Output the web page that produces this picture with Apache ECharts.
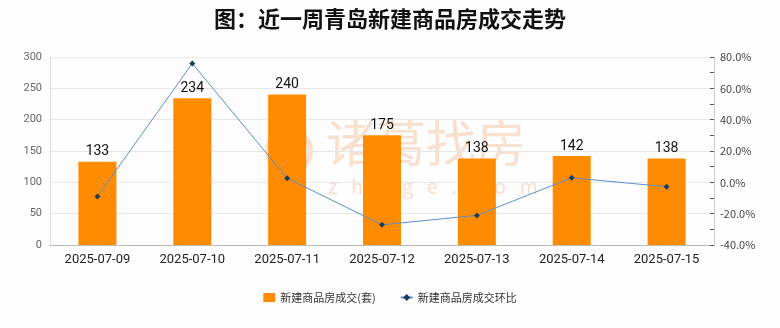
<!DOCTYPE html>
<html>
<head>
<meta charset="utf-8">
<script src="https://cdn.jsdelivr.net/npm/echarts@6/dist/echarts.min.js"></script>
<style>
html,body{margin:0;padding:0;background:#fdfdfd;}
#chart{width:780px;height:328px;}
</style>
</head>
<body>
<div id="chart"></div>
<script>
// Weekly new-home transactions in Qingdao
const dates = ['2025-07-09','2025-07-10','2025-07-11','2025-07-12','2025-07-13','2025-07-14','2025-07-15'];
const deals = [133, 234, 240, 175, 138, 142, 138];
const ringRatio = [-9.0, 75.9, 2.6, -27.1, -21.1, 2.9, -2.8];
const seriesNames = ['新建商品房成交(套)', '新建商品房成交环比'];
const titleText = '图：近一周青岛新建商品房成交走势';

const chart = echarts.init(document.getElementById('chart'));
const cjk = '"Noto Sans CJK SC", sans-serif';
const mark = 'rgba(244,196,160,0.5)';

chart.setOption({
  backgroundColor: '#fdfdfd',
  animation: false,
  title: {
    text: titleText,
    left: 'center',
    top: 3,
    textStyle: { fontFamily: cjk, fontSize: 22, fontWeight: 'bold', color: '#111' }
  },
  graphic: [
    {
      type: 'circle', silent: true, z: 0,
      shape: { cx: 289, cy: 151, r: 21 },
      style: { fill: 'none', stroke: mark, lineWidth: 6 }
    },
    {
      type: 'text', left: 326, top: 118, silent: true, z: 0,
      style: { text: '诸葛找房', font: '50px ' + cjk, fill: mark }
    },
    {
      type: 'text', left: 328, top: 176, silent: true, z: 0,
      style: { text: 'z   h   u   g   e   .   c   o   m', font: '20px ' + cjk, fill: mark }
    }
  ],
  legend: {
    bottom: 20,
    left: 'center',
    itemGap: 24,
    itemWidth: 12,
    itemHeight: 9,
    textStyle: { fontFamily: cjk, fontSize: 11, color: '#333' },
    data: [
      { name: seriesNames[0], icon: 'rect' },
      { name: seriesNames[1] }
    ]
  },
  grid: { left: 50, right: 66, top: 57, bottom: 83 },
  xAxis: {
    type: 'category',
    data: dates,
    axisLine: { lineStyle: { color: '#bbb' } },
    axisTick: { show: false },
    axisLabel: { fontFamily: 'Roboto, sans-serif', fontSize: 13, color: '#222', margin: 8 }
  },
  yAxis: [
    {
      type: 'value', min: 0, max: 300, interval: 50,
      axisLine: { show: true, lineStyle: { color: '#ddd' } },
      axisTick: { show: false },
      axisLabel: { fontFamily: 'Roboto, sans-serif', fontSize: 11, color: '#666', margin: 8 },
      splitLine: { lineStyle: { color: '#e6e6e6' } }
    },
    {
      type: 'value', min: -40, max: 80, interval: 20,
      axisLine: { show: true, lineStyle: { color: '#ccc' } },
      axisTick: { show: true, inside: true, length: 4, lineStyle: { color: '#555' } },
      minorTick: { show: true, splitNumber: 2, length: 4, lineStyle: { color: '#555' } },
      axisLabel: {
        fontFamily: cjk, fontSize: 11, color: '#444', margin: 6,
        formatter: v => v.toFixed(1) + '%'
      },
      splitLine: { show: false }
    }
  ],
  series: [
    {
      name: seriesNames[0],
      type: 'bar',
      data: deals,
      barWidth: 38,
      itemStyle: { color: '#ff8c00' },
      label: {
        show: true, position: 'top', distance: 3,
        fontFamily: 'Roboto, sans-serif', fontSize: 14, color: '#111'
      }
    },
    {
      name: seriesNames[1],
      type: 'line',
      yAxisIndex: 1,
      data: ringRatio,
      symbol: 'diamond',
      symbolSize: 6,
      lineStyle: { color: '#5b8fc9', width: 1 },
      itemStyle: { color: '#1f3b5a' }
    }
  ]
});
</script>
</body>
</html>
